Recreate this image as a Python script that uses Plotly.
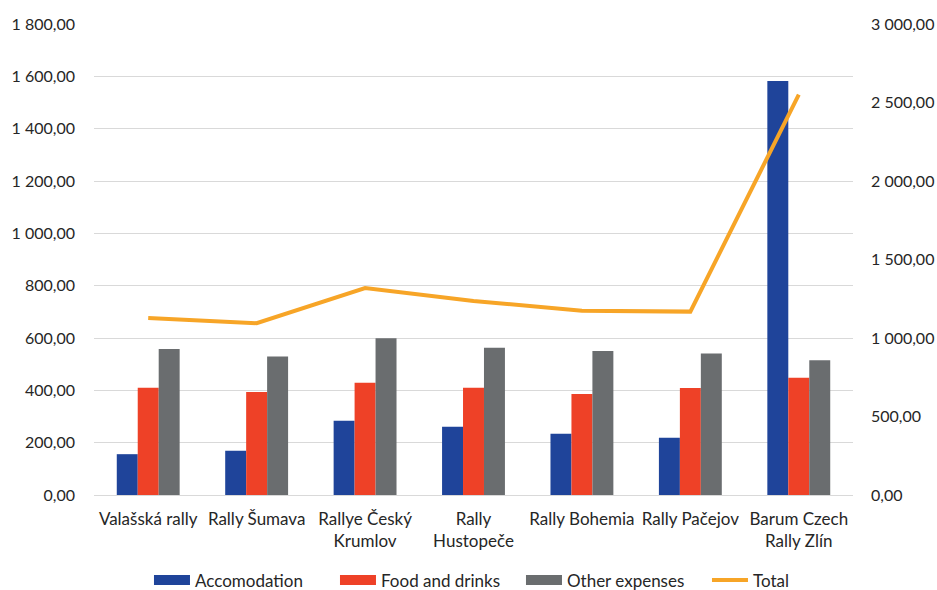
import plotly.graph_objects as go

categories = ["Valašská rally", "Rally Šumava", "Rallye Český<br>Krumlov", "Rally<br>Hustopeče",
              "Rally Bohemia", "Rally Pačejov", "Barum Czech<br>Rally Zlín"]
accomodation = [156, 169, 284, 261, 234, 219, 1582]
food_drinks = [410, 394, 429, 410, 386, 409, 448]
other_expenses = [558, 529, 599, 563, 550, 541, 515]
total = [1127, 1094, 1318, 1236, 1174, 1168, 2550]

left_ticks = [0, 200, 400, 600, 800, 1000, 1200, 1400, 1600, 1800]
right_ticks = [0, 500, 1000, 1500, 2000, 2500, 3000]

FONT = "Lato"
TXT = "#262626"
FS = 17
FS_NUM = 16

bar_series = [
    ("Accomodation", accomodation, "#1F449A"),
    ("Food and drinks", food_drinks, "#EE4127"),
    ("Other expenses", other_expenses, "#6A6D6F"),
]

fig = go.Figure()
for name, vals, color in bar_series:
    fig.add_trace(go.Bar(x=categories, y=vals, name=name, legendgroup=name,
                         showlegend=False, marker=dict(color=color, line=dict(width=0))))
# wide rectangular legend keys for the bar series
for name, vals, color in bar_series:
    fig.add_trace(go.Scatter(x=[None], y=[None], name=name, legendgroup=name,
                             mode="lines", line=dict(color=color, width=10),
                             hoverinfo="skip"))
fig.add_trace(go.Scatter(x=categories, y=total, name="Total", yaxis="y2",
                         mode="lines", line=dict(color="#F7A527", width=4)))

fig.update_layout(
    width=937, height=590,
    margin=dict(l=94, r=84, t=24, b=95, autoexpand=False),
    paper_bgcolor="white", plot_bgcolor="white",
    separators=", ",
    barmode="group", bargap=0.42, bargroupgap=0,
    font=dict(family=FONT, size=FS, color=TXT),
    showlegend=True,
    legend=dict(orientation="h", x=0.159, xanchor="left", xref="container",
                y=0.016, yref="container", yanchor="middle",
                font=dict(size=FS, color=TXT), traceorder="normal",
                entrywidth=135, entrywidthmode="pixels",
                itemwidth=36, tracegroupgap=0),
    xaxis=dict(showgrid=False, showline=False, ticks="", tickfont=dict(size=FS),
               ticklabelstandoff=12, fixedrange=True),
    yaxis=dict(range=[0, 1800], tickvals=left_ticks, tickformat=",.2f",
               showgrid=True, gridcolor="#D9D9D9", gridwidth=1,
               zeroline=True, zerolinecolor="#D9D9D9", zerolinewidth=1,
               showline=False, ticks="", ticklabelstandoff=18, tickfont=dict(size=FS_NUM)),
    yaxis2=dict(range=[0, 3000], tickvals=right_ticks, tickformat=",.2f",
                overlaying="y", side="right", showgrid=False, zeroline=False,
                showline=False, ticks="", ticklabelstandoff=17, tickfont=dict(size=FS_NUM)),
)

fig.write_html("out.html")
